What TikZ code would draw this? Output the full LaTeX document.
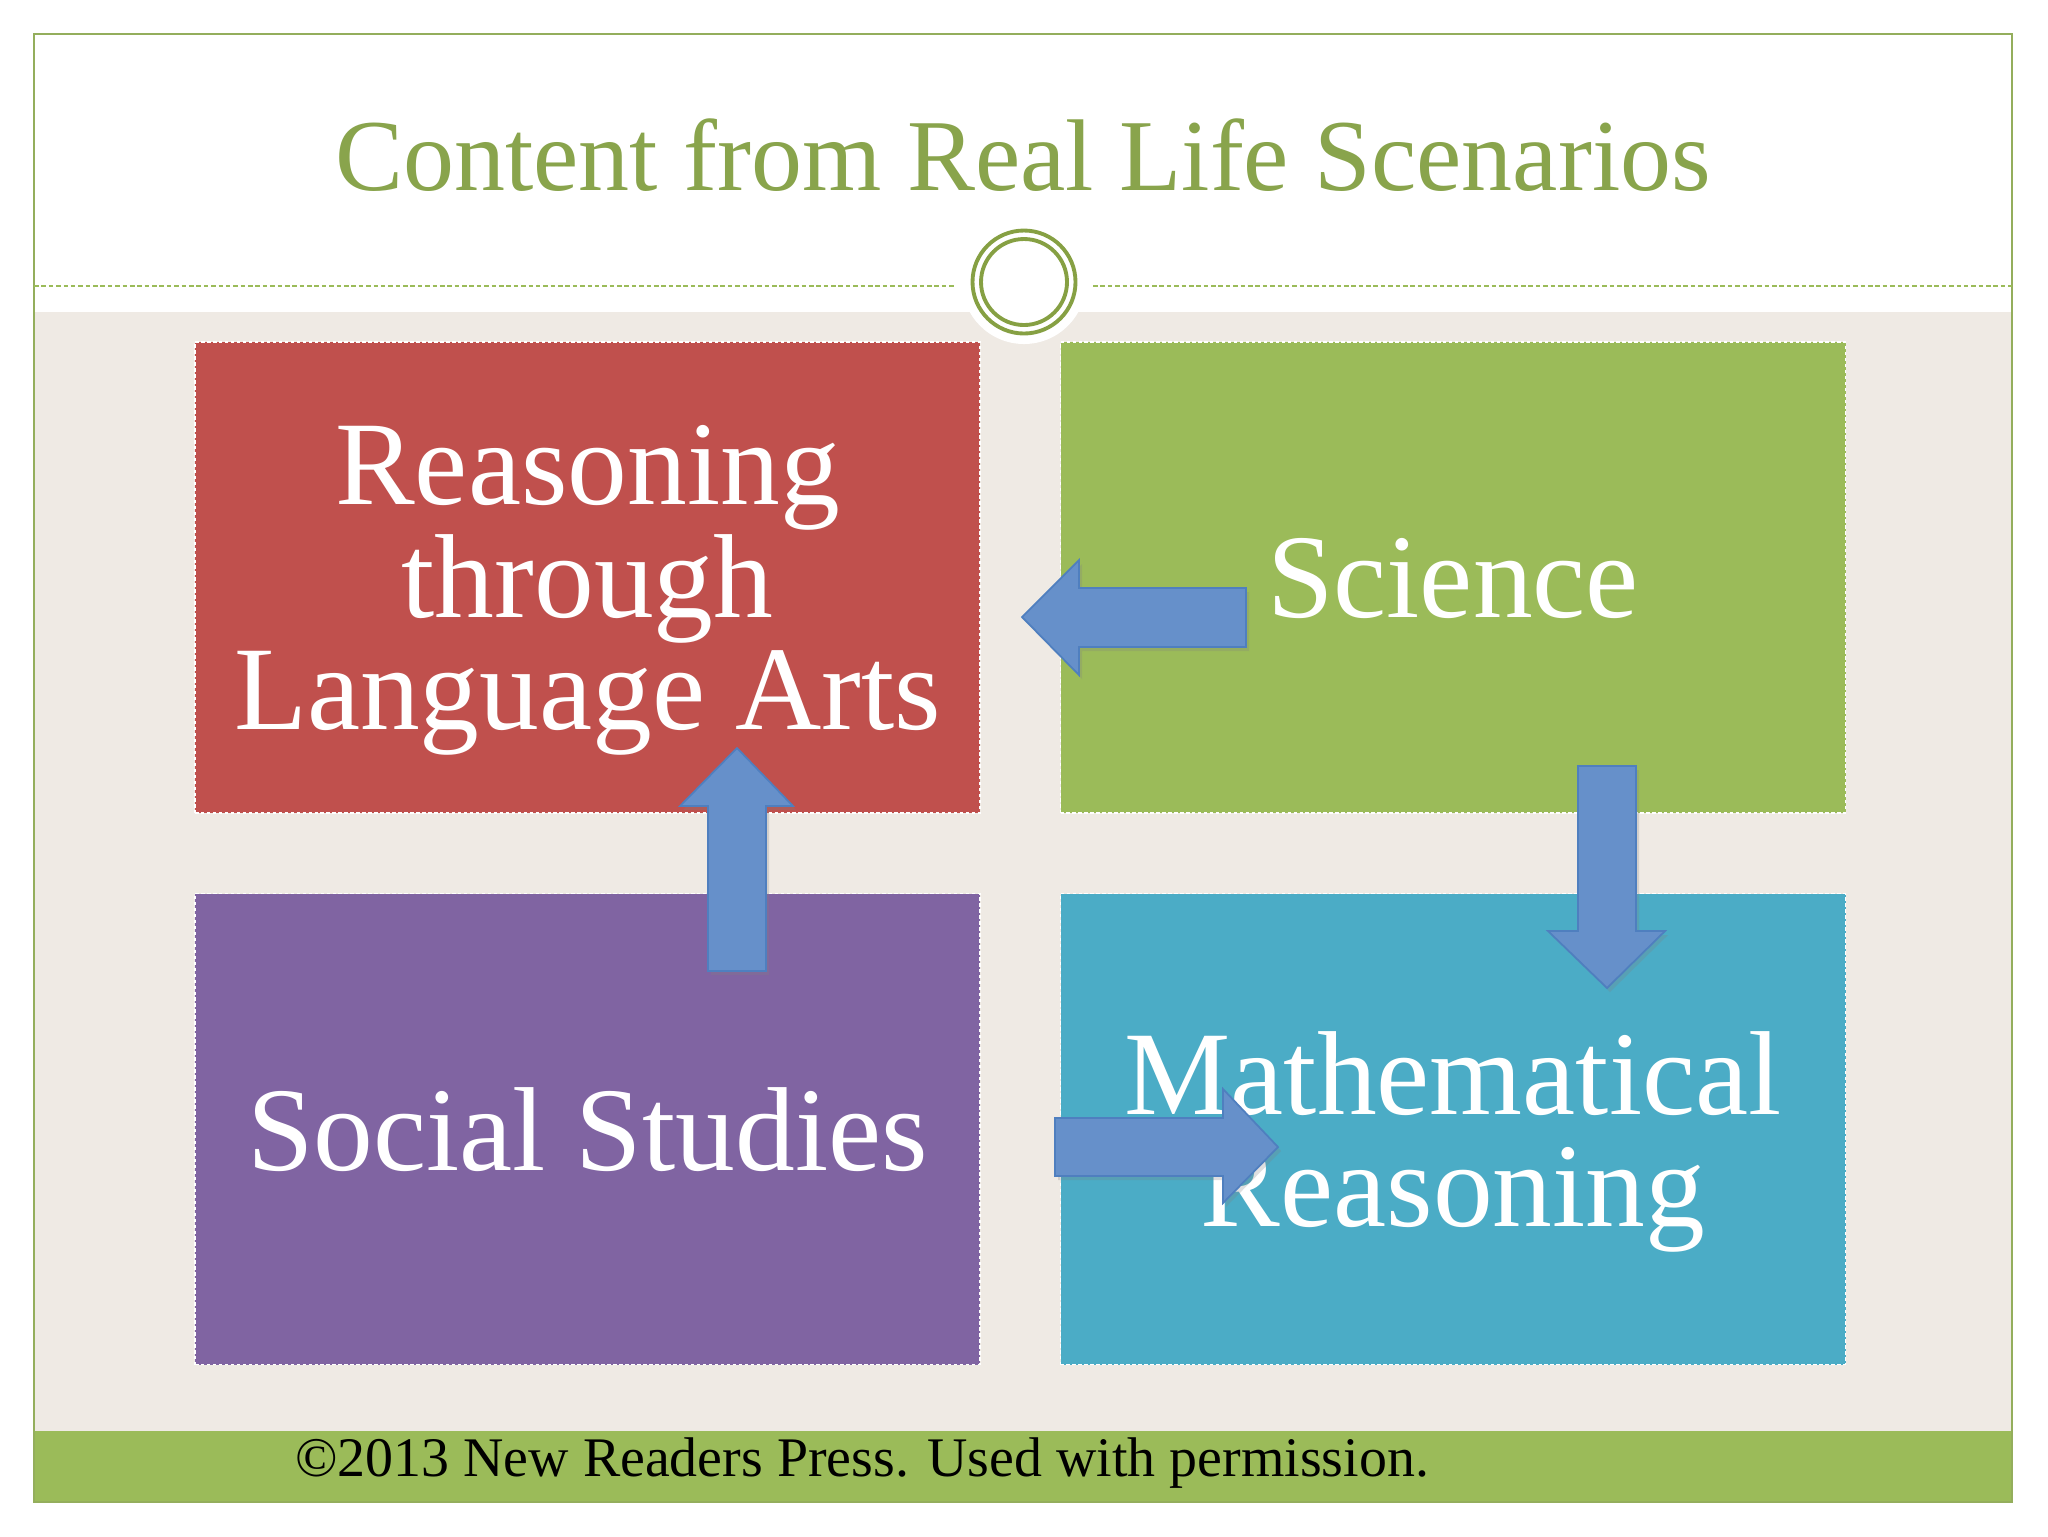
\documentclass[tikz,border=0pt]{standalone}
\usepackage{fontspec}
\setmainfont{Liberation Serif}
\usetikzlibrary{shadows}
\definecolor{framegreen}{HTML}{94AE5C}
\definecolor{bargreen}{HTML}{9BBB59}
\definecolor{titlegreen}{HTML}{89A44C}
\definecolor{ringgreen}{HTML}{86A043}
\definecolor{beige}{HTML}{EFEAE4}
\definecolor{boxred}{HTML}{C0504D}
\definecolor{boxgreen}{HTML}{9BBB59}
\definecolor{boxpurple}{HTML}{8064A2}
\definecolor{boxblue}{HTML}{4BACC6}
\definecolor{arrowfill}{HTML}{6690CA}
\definecolor{arrowline}{HTML}{4F7FBF}
\tikzset{
  panel/.style={rectangle, fill=#1, draw=white, dash pattern=on 1pt off 0.7pt,
    line width=0.5pt, minimum width=78.5mm, minimum height=47.1mm, inner sep=0pt,
    text=white, align=center, text depth=0pt, font=\fontsize{34}{32}\selectfont},
  blockarrow/.style={fill=arrowfill, draw=arrowline, line width=0.5pt, line join=miter,
    drop shadow={opacity=0.25, shadow xshift=0.3mm, shadow yshift=-0.4mm}},
  divider/.style={bargreen, line width=0.6pt, dash pattern=on 1.3pt off 0.8pt},
}
\begin{document}
\begin{tikzpicture}[x=0.1mm,y=-0.1mm]
  \useasboundingbox (0,0) rectangle (2048,1536);
  % slide background and frame
  \fill[white] (0,0) rectangle (2048,1536);
  \fill[beige] (34,312) rectangle (2012,1431);
  \fill[bargreen] (34,1431) rectangle (2012,1502);
  \draw[framegreen, line width=0.7pt] (34,34) rectangle (2012,1502);
  % title
  \node[font=\fontsize{29}{34}\selectfont, text=titlegreen, anchor=base] (title)
    at (1023,190) {Content from Real Life Scenarios};
  % divider with ring
  \draw[divider] (34,286) -- (955,286);
  \draw[divider] (1093,286) -- (2012,286);
  \fill[white] (1024,282) circle (62);
  \draw[ringgreen, line width=1.1pt] (1024,282) circle (51.5);
  \draw[ringgreen, line width=1.1pt] (1024,282) circle (43);
  % content panels
  \node[panel=boxred] (lang) at (587.5,577.5) {Reasoning\\through\\Language Arts};
  \node[panel=boxgreen] (sci) at (1453,577.5) {Science};
  \node[panel=boxpurple] (soc) at (587.5,1129) {Social Studies};
  \node[panel=boxblue] (math) at (1453,1129) {Mathematical\\Reasoning};
  % block arrows between panels
  \draw[blockarrow] (1022,617) -- (1079,560) -- (1079,588) -- (1246,588)
    -- (1246,647) -- (1079,647) -- (1079,675) -- cycle;
  \draw[blockarrow] (737,748) -- (793,806) -- (766,806) -- (766,971)
    -- (708,971) -- (708,806) -- (680,806) -- cycle;
  \draw[blockarrow] (1607,988) -- (1665,931) -- (1636,931) -- (1636,766)
    -- (1578,766) -- (1578,931) -- (1548,931) -- cycle;
  \draw[blockarrow] (1278,1147) -- (1223,1089) -- (1223,1118) -- (1055,1118)
    -- (1055,1176) -- (1223,1176) -- (1223,1203) -- cycle;
  % footer
  \node[font=\fontsize{15.9}{19}\selectfont, anchor=base west] (credit)
    at (283,1476) {©2013 New Readers Press. Used with permission.};
\end{tikzpicture}
\end{document}
